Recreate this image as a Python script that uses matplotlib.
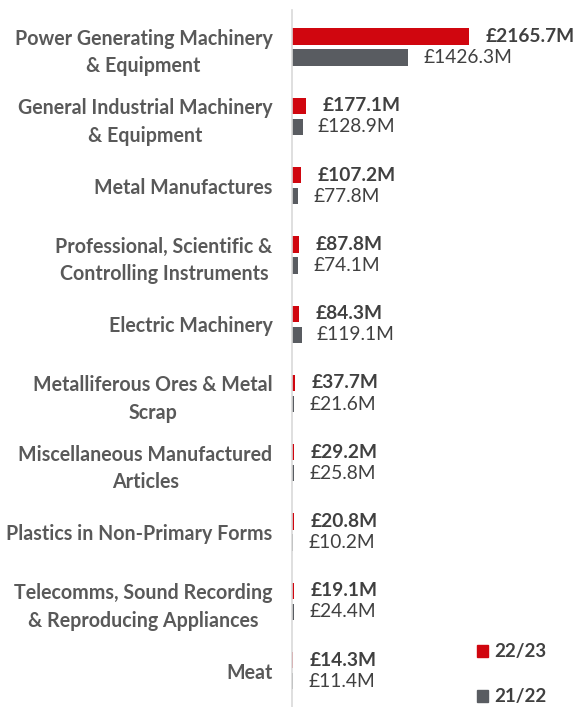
import matplotlib
matplotlib.use('Agg')
import matplotlib.pyplot as plt
from matplotlib.patches import Patch

categories = [
    'Power Generating Machinery\n& Equipment',
    'General Industrial Machinery\n& Equipment',
    'Metal Manufactures',
    'Professional, Scientific &\nControlling Instruments',
    'Electric Machinery',
    'Metalliferous Ores & Metal\nScrap',
    'Miscellaneous Manufactured\nArticles',
    'Plastics in Non-Primary Forms',
    'Telecomms, Sound Recording\n& Reproducing Appliances',
    'Meat',
]
values_2223 = [2165.7, 177.1, 107.2, 87.8, 84.3, 37.7, 29.2, 20.8, 19.1, 14.3]
values_2122 = [1426.3, 128.9, 77.8, 74.1, 119.1, 21.6, 25.8, 10.2, 24.4, 11.4]
series_names = ['22/23', '21/22']

RED = '#D0060F'
GREY = '#595C61'
TEXT = '#404040'
LABEL = '#595959'

plt.rcParams['font.family'] = ['Lato', 'DejaVu Sans']

fig = plt.figure(figsize=(5.77, 7.07), dpi=100)
ax = fig.add_axes([292 / 577, 0, 285 / 577, 697 / 707])

pos = list(range(len(categories)))
off = 0.152
h = 0.235
red_y = [p - off for p in pos]
grey_y = [p + off for p in pos]
ax.barh(red_y, values_2223, height=h, color=RED, left=0)
ax.barh(grey_y, values_2122, height=h, color=GREY, left=0)

for y, v in zip(red_y, values_2223):
    ax.annotate(f'£{v}M', (v, y), xytext=(12, 0), textcoords='offset points',
                va='center', ha='left', fontsize=13.8, fontweight='bold', color=TEXT)
for y, v in zip(grey_y, values_2122):
    ax.annotate(f'£{v}M', (v, y), xytext=(11, 0), textcoords='offset points',
                va='center', ha='left', fontsize=13.8, color=TEXT)

ax.set_xlim(0, 3497)
ax.set_ylim(9.524, -0.534)
ax.set_yticks(pos)
ax.set_yticklabels(categories, fontsize=14.1, fontweight='bold', color=LABEL,
                   multialignment='center', linespacing=1.45)
ax.tick_params(axis='y', length=0, pad=14)
ax.set_xticks([])
for s in ['top', 'right', 'bottom']:
    ax.spines[s].set_visible(False)
ax.spines['left'].set_color('#D9D9D9')
ax.spines['left'].set_linewidth(1.2)

handles = [Patch(color=RED, label=series_names[0]), Patch(color=GREY, label=series_names[1])]
leg = ax.legend(handles=handles, loc='lower left', bbox_to_anchor=(0.59, -0.022),
                frameon=False, handlelength=0.6, handleheight=0.6, handletextpad=0.3,
                labelspacing=1.5, prop={'weight': 'bold', 'size': 13.5})
for t in leg.get_texts():
    t.set_color(TEXT)

fig.savefig('out.png', dpi=100)
